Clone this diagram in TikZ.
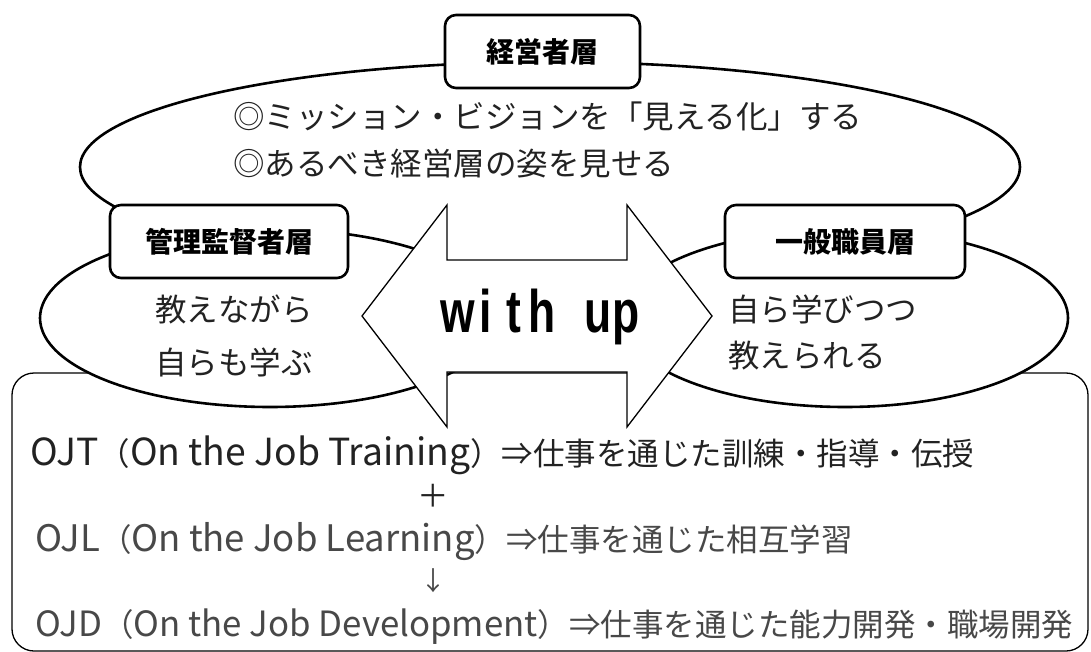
\documentclass[tikz,border=0pt]{standalone}
\usepackage{fontspec}
\usetikzlibrary{shapes.geometric}
\newfontfamily\jp{Noto Sans CJK JP}
\newfontfamily\withfont{Liberation Sans}
\definecolor{txt}{HTML}{222222}
\definecolor{txtg}{HTML}{484848}
\tikzset{
  oval/.style={ellipse, draw=black, line width=2.6pt, fill=white, inner sep=0pt},
  tag/.style={draw=black, line width=2.6pt, fill=white, rounded corners=11pt, inner sep=0pt,
    font={\jp\bfseries\fontsize{28}{32}\selectfont}, text=black},
  body/.style={font={\jp\fontsize{31.5}{36}\selectfont}, text=txt, inner sep=0pt, anchor=base west},
  bodyg/.style={body, text=txtg},
  frame/.style={draw=black, line width=1.3pt, rounded corners=22pt, inner sep=0pt},
  bigarrow/.style={draw=black, line width=1.3pt, fill=white, line join=miter}
}
\newcommand{\wl}[1]{\makebox[28pt]{\scalebox{0.74}[1]{#1}}}
\newcommand{\lat}[2][36.5]{{\fontsize{#1}{40}\selectfont #2}}
\begin{document}
\begin{tikzpicture}[x=1pt,y=-1pt]
\useasboundingbox (0,0) rectangle (1091,652);
% bottom frame
\node[frame, minimum width=1076pt, minimum height=278pt] (frame) at (550,512) {};
% top ellipse
\node[oval, minimum width=940pt, minimum height=210pt] (top) at (550,167) {};
% lower ellipses
\node[oval, minimum width=460pt, minimum height=178pt] (left) at (270,318) {};
\node[oval, minimum width=446pt, minimum height=178pt] (right) at (845,318) {};
% labels
\node[tag, minimum width=195pt, minimum height=73pt] (tagtop) at (542.5,51.5) {経営者層};
\node[tag, minimum width=238pt, minimum height=73pt] (tagleft) at (229,241.5) {管理監督者層};
\node[tag, minimum width=240pt, minimum height=73pt] (tagright) at (845,241.5) {一般職員層};
% texts in ellipses
\node[body] (t1) at (233,129) {◎ミッション・ビジョンを「見える化」する};
\node[body] (t2) at (233,176) {◎あるべき経営層の姿を見せる};
\node[body] (l1) at (155,321) {教えながら};
\node[body] (l2) at (155,374) {自らも学ぶ};
\node[body] (r1) at (728,321) {自ら学びつつ};
\node[body] (r2) at (728,367) {教えられる};
% double arrow
\coordinate (tipL) at (362,316);
\coordinate (tipR) at (712,316);
\draw[bigarrow] (tipL) -- (447,205) -- (447,260) -- (627,260) -- (627,205) -- (tipR)
  -- (627,427) -- (627,372) -- (447,372) -- (447,427) -- cycle;
\node[inner sep=0pt, anchor=base, font={\withfont\bfseries\fontsize{60}{66}\selectfont}, text=black] (with) at (542,332)
  {\wl{w}\wl{i}\wl{t}\wl{h}\wl{\ }\wl{u}\wl{p}};
% bottom texts
\node[body] (ojt) at (30,465) {\lat[37.3]{OJT}（\lat[37.3]{On the Job Training}）⇒仕事を通じた訓練・指導・伝授};
\node[body, anchor=base] (plus) at (433,507) {＋};
\node[bodyg] (ojl) at (35,551) {\lat{OJL}（\lat{On the Job Learning}）⇒仕事を通じた相互学習};
\node[bodyg, anchor=base, font={\jp\fontsize{26}{30}\selectfont}] (down) at (433,590) {↓};
\node[bodyg] (ojd) at (35,636) {\lat[34.8]{OJD}（\lat[34.8]{On the Job Development}）⇒仕事を通じた能力開発・職場開発};
\end{tikzpicture}
\end{document}
